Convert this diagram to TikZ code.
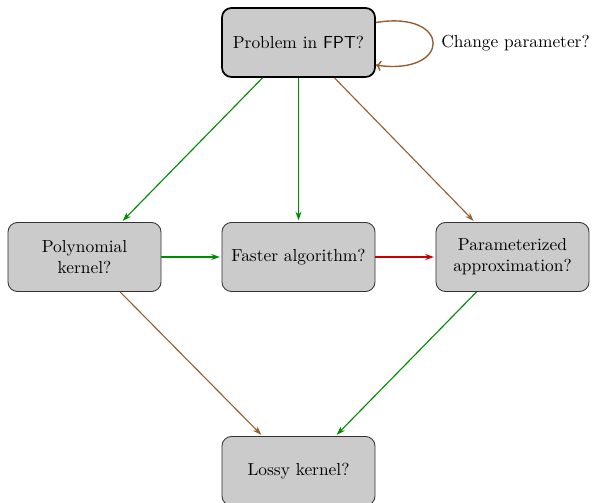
\documentclass[tikz,border=0pt]{standalone}
\usetikzlibrary{arrows.meta}
\definecolor{boxgray}{RGB}{203,203,203}
\definecolor{mygreen}{RGB}{0,140,0}
\definecolor{myred}{RGB}{200,0,0}
\definecolor{mybrown}{RGB}{150,95,50}
\begin{document}
\begin{tikzpicture}[x=0.575pt,y=-0.575pt,
  qbox/.style={draw=black!80, fill=boxgray, rounded corners=5.5pt, minimum width=88pt, minimum height=39.7pt, align=center, line width=0.5pt, inner sep=2pt},
  topbox/.style={qbox, draw=black, line width=1pt},
  garrow/.style={draw=mygreen, line width=0.65pt, -{Stealth[length=5pt,width=3.5pt]}},
  barrow/.style={draw=mybrown, line width=0.65pt, -{Stealth[length=5pt,width=3.5pt]}},
  rarrow/.style={draw=myred, line width=0.65pt, -{Stealth[length=5pt,width=3.5pt]}},
  shortarr/.style={shorten >=1pt}]
\useasboundingbox (0,0) rectangle (593,503);
\node[topbox] (fpt) at (298.5,42.5) {Problem in \textsf{FPT}?};
\node[qbox] (poly) at (84.5,257) {Polynomial\\kernel?};
\node[qbox] (fast) at (298.5,257) {Faster algorithm?};
\node[qbox] (approx) at (512.5,257) {Parameterized\\approximation?};
\node[qbox] (lossy) at (298.5,471) {Lossy kernel?};
\node[anchor=west, inner sep=0pt] (chg) at (441,43) {Change parameter?};

\draw[garrow,shortarr] ([xshift=-20.7pt]fpt.south) -- ([xshift=21.3pt]poly.north);
\draw[garrow,shortarr] (fpt.south) -- (fast.north);
\draw[barrow,shortarr] ([xshift=20.7pt]fpt.south) -- ([xshift=-21.7pt]approx.north);
\draw[garrow,shortarr] (poly.east) -- (fast.west);
\draw[rarrow,shortarr] (fast.east) -- (approx.west);
\draw[barrow,shortarr] ([xshift=20.5pt]poly.south) -- ([xshift=-20.7pt]lossy.north);
\draw[garrow,shortarr] ([xshift=-20.7pt]approx.south) -- ([xshift=21.3pt]lossy.north);
\draw[draw=mybrown, line width=0.8pt, -{To[length=3pt,width=6pt]}] ([yshift=11.5pt]fpt.east) .. controls (452,10) and (452,76) .. ([yshift=-13pt]fpt.east);
\end{tikzpicture}
\end{document}
